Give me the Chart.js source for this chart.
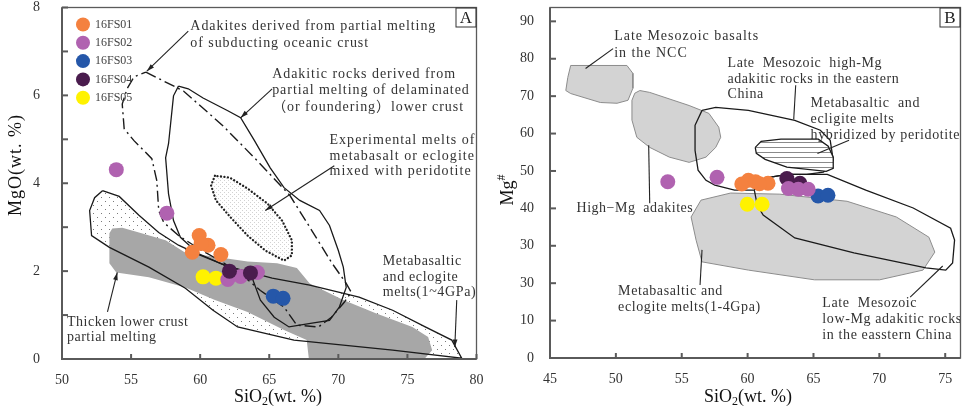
<!DOCTYPE html>
<html lang="en">
<head>
<meta charset="UTF-8">
<title>MgO and Mg# vs SiO2</title>
<script src="https://cdn.jsdelivr.net/npm/chart.js"></script>
<style>
  html, body { margin: 0; padding: 0; background: #fff; }
  #wrap { position: relative; width: 968px; height: 410px; }
  #wrap canvas { position: absolute; top: 0; }
  #chartA { left: 0; }
  #chartB { left: 484px; }
</style>
</head>
<body>
<div id="wrap">
  <canvas id="chartA" width="484" height="410"></canvas>
  <canvas id="chartB" width="484" height="410"></canvas>
</div>
<script>
// ---- samples ----
const samples = ['16FS01', '16FS02', '16FS03', '16FS04', '16FS05'];
const sampleColors = ['#f4813f', '#b062b0', '#2557a9', '#4a1c4d', '#fff200'];

// panel A: [SiO2, MgO]
const a16FS01 = [[59.93, 2.81], [60.57, 2.59], [59.43, 2.43], [61.5, 2.38], [60.07, 2.63]];
const a16FS02 = [[53.93, 4.31], [57.59, 3.32], [62.0, 1.81], [62.93, 1.88], [64.14, 1.97]];
const a16FS03 = [[65.29, 1.43], [66.0, 1.38]];
const a16FS04 = [[62.12, 2.0], [63.64, 1.96]];
const a16FS05 = [[60.21, 1.87], [61.14, 1.84]];

// panel B: [SiO2, Mg#]
const b16FS01 = [[59.56, 46.5], [60.06, 47.5], [60.6, 47.1], [61.55, 46.7], [60.9, 46.6]];
const b16FS02 = [[53.94, 47.1], [57.68, 48.3], [63.1, 45.3], [63.85, 45.1], [64.6, 45.1]];
const b16FS03 = [[65.35, 43.3], [66.1, 43.5]];
const b16FS04 = [[62.98, 48.0], [63.97, 46.7]];
const b16FS05 = [[59.98, 41.1], [61.1, 41.1]];

// ---- ticks ----
const xTicksA = [50, 55, 60, 65, 70, 75, 80];
const yTicksA = [0, 1, 2, 3, 4, 5, 6, 7, 8];
const yTickLabelsA = ['0', '', '2', '', '4', '', '6', '', '8'];
const xTicksB = [45, 50, 55, 60, 65, 70, 75];
const yTicksB = [0, 10, 20, 30, 40, 50, 60, 70, 80, 90];
const yTickLabelsB = ['0', '10', '30', '30', '40', '50', '60', '70', '80', '90'];

// ---- fields, panel A ----
const subductedCrust = [[56.07, 6.53], [58.79, 6.10], [61.64, 5.31], [64.14, 4.51], [66.5, 3.72], [68.07, 2.93],
  [69.5, 2.20], [70.57, 1.72], [70.93, 1.52], [70.43, 1.29], [69.5, 0.95], [68.57, 0.73], [67.0, 0.77],
  [66.07, 1.18], [64.36, 1.56], [63.07, 1.90], [61.64, 2.20], [59.86, 2.52], [58.43, 2.81], [57.36, 3.11],
  [57.0, 3.38], [56.86, 4.06], [56.5, 4.56], [55.21, 4.97], [54.5, 5.24], [54.36, 5.80], [54.71, 6.15], [55.21, 6.42]];
const delaminatedCrust = [[58.43, 6.21], [59.14, 6.15], [60.21, 5.94], [62.0, 5.65], [62.93, 5.49], [63.93, 4.97],
  [65.07, 4.35], [66.07, 3.90], [67.21, 3.61], [68.64, 3.38], [69.36, 3.04], [70.0, 2.47], [70.36, 2.09],
  [70.57, 1.63], [70.07, 1.18], [69.36, 0.88], [68.21, 0.82], [66.43, 0.73], [65.36, 0.95], [64.36, 1.34],
  [63.64, 1.95], [61.79, 2.13], [59.86, 2.40], [58.57, 2.77], [58.07, 3.15], [57.71, 3.76], [57.5, 4.58],
  [57.71, 4.90], [58.07, 5.99]];
const experimentalMelts = [[61.07, 4.17], [60.79, 3.95], [61.14, 3.61], [62.21, 3.22], [63.43, 2.81], [64.71, 2.47],
  [66.07, 2.24], [66.64, 2.36], [66.64, 2.70], [65.93, 3.15], [64.86, 3.54], [63.43, 3.88], [62.14, 4.13]];
const thickLowerCrust = [[53.64, 2.97], [54.36, 2.99], [55.57, 2.88], [57.5, 2.70], [58.93, 2.42], [61.07, 2.33],
  [63.43, 2.22], [65.57, 2.18], [67.0, 2.07], [67.93, 1.72], [70.36, 1.34], [72.71, 1.04], [75.36, 0.73],
  [76.5, 0.50], [76.79, 0.20], [76.29, 0.02], [67.86, 0.02], [67.71, 0.43], [66.07, 0.66], [63.43, 1.07],
  [61.07, 1.34], [58.93, 1.63], [56.29, 1.86], [53.93, 1.97], [53.43, 2.18], [53.43, 2.86]];
const metabasaltMeltsA = [[52.93, 3.83], [54.14, 3.70], [55.57, 3.27], [57.0, 2.88], [58.43, 2.59], [59.86, 2.38],
  [62.0, 2.11], [63.64, 1.97], [65.21, 1.84], [67.93, 1.68], [71.5, 1.41], [73.93, 1.11], [76.29, 0.73],
  [78.21, 0.43], [78.93, 0.02], [73.93, 0.20], [66.79, 0.43], [62.71, 0.73], [60.93, 1.11], [58.93, 1.61],
  [56.29, 2.09], [53.43, 2.54], [52.14, 2.81], [52.0, 3.38], [52.36, 3.67]];

// ---- fields, panel B ----
const nccBasalts = [[46.57, 78.2], [50.84, 78.2], [51.29, 76.1], [51.29, 72.1], [50.92, 68.9], [50.09, 68.1],
  [48.82, 68.3], [46.57, 70.7], [46.2, 71.5], [46.35, 75.0]];
const highMgAdakites = [[51.82, 71.5], [52.57, 71.0], [55.56, 67.5], [57.06, 65.4], [57.81, 61.7], [57.96, 59.0],
  [57.58, 56.3], [56.84, 53.7], [55.56, 52.3], [54.06, 53.7], [52.57, 56.3], [51.59, 59.0], [51.22, 63.6],
  [51.22, 68.9], [51.44, 70.8]];
const metabasaltMeltsB = [[55.71, 37.7], [56.46, 42.2], [58.71, 44.1], [62.45, 43.8], [67.55, 41.9], [71.29, 37.7],
  [73.76, 32.3], [74.21, 28.3], [73.31, 23.5], [70.02, 20.9], [65.07, 20.9], [60.06, 23.5], [56.54, 25.7],
  [56.09, 31.5]];
const highMgEastChina = [[56.54, 66.2], [57.58, 67.0], [60.06, 66.2], [63.58, 63.5], [65.52, 60.9], [66.27, 58.2],
  [66.5, 52.9], [66.12, 50.7], [65.75, 49.7], [64.48, 49.1], [62.98, 49.1], [61.33, 48.1], [60.51, 44.9],
  [59.01, 44.9], [57.51, 46.2], [56.84, 47.5], [56.24, 50.2], [56.01, 55.5], [56.01, 62.2]];
const lowMgEastChina = [[60.51, 44.9], [61.33, 48.1], [62.98, 49.1], [66.05, 49.1], [68.97, 44.9], [72.57, 40.1],
  [75.41, 34.7], [75.71, 31.5], [75.56, 25.4], [75.04, 23.5], [73.54, 24.1], [68.07, 28.1], [63.58, 32.1],
  [61.18, 38.2], [60.73, 40.9]];
const hybridMelts = [[60.58, 56.3], [61.03, 57.9], [62.53, 58.5], [65.37, 58.5], [66.12, 56.6], [66.5, 53.7],
  [66.5, 50.7], [65.97, 49.9], [62.98, 51.0], [61.33, 53.1], [60.66, 54.7]];

Chart.defaults.font.family = '"Liberation Serif", "Times New Roman", "Noto Sans CJK SC", serif';
Chart.defaults.color = '#333';

function makePattern(w, h, draw) {
  const c = document.createElement('canvas');
  c.width = w; c.height = h;
  const g = c.getContext('2d');
  g.fillStyle = '#fff';
  g.fillRect(0, 0, w, h);
  draw(g);
  return g.createPattern(c, 'repeat');
}
const stipple = makePattern(8, 8, g => { g.fillStyle = '#7a7a7a'; g.fillRect(1, 1, 1, 1); g.fillRect(5, 5, 1, 1); });
const fineDots = makePattern(4, 4, g => { g.fillStyle = '#d2d2d2'; g.fillRect(0, 0, 1, 1); g.fillRect(2, 2, 1, 1); });
const hatch = makePattern(5, 5, g => { g.fillStyle = '#8a8a8a'; g.fillRect(0, 2, 5, 1); });

function pts(arr) { return arr.map(([x, y]) => ({ x, y })); }
function ring(arr) { return pts(arr.concat([arr[0]])); }

function pointSet(i, data) {
  const c = sampleColors[i];
  return { label: samples[i], data: pts(data), showLine: false, pointRadius: 7.5, pointHoverRadius: 7.5,
           pointBorderWidth: 0, pointBackgroundColor: c, backgroundColor: c, borderColor: c };
}
function shapeSet(data, style) {
  return Object.assign({ data: ring(data), showLine: true, pointRadius: 0, pointHoverRadius: 0, pointHitRadius: 0,
    tension: 0, fill: false, borderColor: '#1a1a1a', borderWidth: 1.3, backgroundColor: 'transparent' }, style);
}

// text block with letter spacing fitted to a measured line width
function drawBlock(ctx, lb, px, py) {
  ctx.font = (lb.size || 14) + 'px ' + Chart.defaults.font.family;
  ctx.letterSpacing = '0px';
  const ref = lb.lines[lb.ref || 0];
  const w0 = ctx.measureText(ref).width;
  const sp = Math.max(0, (lb.w - w0) / Math.max(1, ref.length - 1));
  ctx.letterSpacing = sp.toFixed(2) + 'px';
  lb.lines.forEach((t, i) => ctx.fillText(t, px, py + i * lb.lh));
  ctx.letterSpacing = '0px';
}

function decor(p) {
  return {
    id: 'decor' + p.letter,
    afterDraw(chart) {
      const { ctx, chartArea: ca, scales: { x, y } } = chart;
      ctx.save();

      // leader lines
      ctx.strokeStyle = '#222';
      ctx.fillStyle = '#222';
      ctx.lineWidth = 1.1;
      p.leaders.forEach(l => {
        const x1 = x.getPixelForValue(l[0][0]), y1 = y.getPixelForValue(l[0][1]);
        const x2 = x.getPixelForValue(l[1][0]), y2 = y.getPixelForValue(l[1][1]);
        ctx.beginPath(); ctx.moveTo(x1, y1); ctx.lineTo(x2, y2); ctx.stroke();
        if (p.arrows) {
          const a = Math.atan2(y2 - y1, x2 - x1);
          ctx.beginPath();
          ctx.moveTo(x2, y2);
          ctx.lineTo(x2 - 8 * Math.cos(a - 0.3), y2 - 8 * Math.sin(a - 0.3));
          ctx.lineTo(x2 - 8 * Math.cos(a + 0.3), y2 - 8 * Math.sin(a + 0.3));
          ctx.closePath(); ctx.fill();
        }
      });

      // annotation text
      ctx.fillStyle = '#333';
      ctx.textBaseline = 'middle';
      ctx.textAlign = 'left';
      p.labels.forEach(lb => drawBlock(ctx, lb, x.getPixelForValue(lb.at[0]), y.getPixelForValue(lb.at[1])));

      // frame
      ctx.strokeStyle = '#5a5a5a';
      ctx.lineWidth = 1.3;
      ctx.strokeRect(ca.left, ca.top, ca.right - ca.left, ca.bottom - ca.top);
      ctx.lineWidth = 2;
      ctx.beginPath();
      ctx.moveTo(ca.left, ca.top); ctx.lineTo(ca.left, ca.bottom); ctx.lineTo(ca.right, ca.bottom);
      ctx.stroke();

      // inward tick marks
      x.ticks.forEach(t => {
        const px = x.getPixelForValue(t.value);
        ctx.beginPath(); ctx.moveTo(px, ca.bottom); ctx.lineTo(px, ca.bottom - 5); ctx.stroke();
      });
      y.ticks.forEach(t => {
        const py = y.getPixelForValue(t.value);
        ctx.beginPath(); ctx.moveTo(ca.left, py); ctx.lineTo(ca.left + 6, py); ctx.stroke();
      });

      // panel letter
      ctx.lineWidth = 1;
      ctx.strokeStyle = '#333';
      ctx.strokeRect(ca.right - 20.5, ca.top + 0.5, 20, 19);
      ctx.fillStyle = '#222';
      ctx.font = '17px ' + Chart.defaults.font.family;
      ctx.textAlign = 'center';
      ctx.fillText(p.letter, ca.right - 10.5, ca.top + 11);

      // x title  SiO2(wt. %)
      const big = '18px ' + Chart.defaults.font.family, small = '12px ' + Chart.defaults.font.family;
      ctx.fillStyle = '#111';
      ctx.textAlign = 'left';
      ctx.font = big;
      const w1 = ctx.measureText('SiO').width, w3 = ctx.measureText('(wt. %)').width;
      ctx.font = small;
      const w2 = ctx.measureText('2').width;
      let tx = p.xTitle[0] - (w1 + w2 + w3) / 2;
      const ty = p.xTitle[1];
      ctx.font = big; ctx.fillText('SiO', tx, ty); tx += w1;
      ctx.font = small; ctx.fillText('2', tx, ty + 5); tx += w2;
      ctx.font = big; ctx.fillText('(wt. %)', tx, ty);

      // y title
      ctx.save();
      ctx.translate(p.yTitle[0], p.yTitle[1]);
      ctx.rotate(-Math.PI / 2);
      ctx.font = big;
      if (p.yTitleSup) {
        const m = ctx.measureText(p.yTitleText).width;
        ctx.font = small;
        const s = ctx.measureText(p.yTitleSup).width;
        const sx = -(m + s) / 2;
        ctx.font = big; ctx.fillText(p.yTitleText, sx, 0);
        ctx.font = small; ctx.fillText(p.yTitleSup, sx + m, -6);
      } else {
        ctx.letterSpacing = '1px';
        ctx.textAlign = 'center';
        ctx.fillText(p.yTitleText, 0, 0);
        ctx.letterSpacing = '0px';
      }
      ctx.restore();

      // legend
      if (p.legend) {
        ctx.font = '12px ' + Chart.defaults.font.family;
        ctx.textAlign = 'left';
        samples.forEach((s, i) => {
          const cy = ca.top + 17 + i * 18.3;
          ctx.fillStyle = sampleColors[i];
          ctx.beginPath(); ctx.arc(ca.left + 21, cy, 7, 0, Math.PI * 2); ctx.fill();
          ctx.fillStyle = '#444';
          ctx.fillText(s, ca.left + 33, cy);
        });
      }
      ctx.restore();
    }
  };
}

function noPad(s) {
  s.paddingTop = 0; s.paddingBottom = 0; s.paddingLeft = 0; s.paddingRight = 0;
}

function makeChart(id, cfg) {
  return new Chart(document.getElementById(id), {
    type: 'scatter',
    data: { datasets: cfg.datasets },
    options: {
      responsive: false,
      animation: false,
      events: [],
      layout: { padding: { top: 7, right: cfg.padRight, left: 0, bottom: 0 } },
      plugins: { legend: { display: false }, tooltip: { enabled: false } },
      scales: {
        x: {
          type: 'linear', min: cfg.xMin, max: cfg.xMax,
          grid: { display: false }, border: { display: false },
          ticks: { font: { size: 14 }, color: '#333', padding: 5, autoSkip: false, maxRotation: 0 },
          afterBuildTicks: s => { s.ticks = cfg.xTicks.map(v => ({ value: v })); },
          afterFit: s => { s.height = cfg.xAxisH; noPad(s); }
        },
        y: {
          type: 'linear', min: cfg.yMin, max: cfg.yMax,
          grid: { display: false }, border: { display: false },
          ticks: { font: { size: 14 }, color: '#333', padding: cfg.yPad, autoSkip: false,
                   callback: (v, i) => cfg.yLabels[i] },
          afterBuildTicks: s => { s.ticks = cfg.yTicks.map(v => ({ value: v })); },
          afterFit: s => { s.width = cfg.yAxisW; noPad(s); }
        }
      }
    },
    plugins: [decor(cfg.decor)]
  });
}

// ---- panel A ----
makeChart('chartA', {
  xMin: 50, xMax: 80, yMin: 0, yMax: 8,
  xTicks: xTicksA, yTicks: yTicksA, yLabels: yTickLabelsA,
  yAxisW: 62, xAxisH: 51, padRight: 3, yPad: 14,
  datasets: [
    pointSet(3, a16FS04), pointSet(1, a16FS02), pointSet(2, a16FS03), pointSet(0, a16FS01), pointSet(4, a16FS05),
    shapeSet(subductedCrust, { borderDash: [11, 4, 2, 4], borderWidth: 1.4 }),
    shapeSet(delaminatedCrust, {}),
    shapeSet(metabasaltMeltsA, {}),
    shapeSet(experimentalMelts, { fill: 'shape', backgroundColor: fineDots, borderDash: [0.1, 3.4],
                                  borderWidth: 2.3, borderCapStyle: 'round', borderColor: '#222' }),
    shapeSet(thickLowerCrust, { fill: 'shape', backgroundColor: '#a7a7a7', borderWidth: 0, borderColor: '#a7a7a7' }),
    shapeSet(metabasaltMeltsA, { fill: 'shape', backgroundColor: stipple, borderWidth: 0 })
  ],
  decor: {
    letter: 'A', arrows: true, legend: true,
    xTitle: [278, 397], yTitle: [16, 165], yTitleText: 'MgO(wt. %)',
    labels: [
      { at: [59.29, 7.57], lh: 17, w: 245, lines: ['Adakites derived from partial melting', 'of subducting oceanic crust'] },
      { at: [65.21, 6.49], lh: 16.5, w: 183, lines: ['Adakitic rocks derived from', 'partial melting of delaminated', '（or foundering）lower crust'] },
      { at: [69.36, 4.97], lh: 15.5, w: 145, lines: ['Experimental melts of', 'metabasalt or eclogite', 'mixed with peridotite'] },
      { at: [73.21, 2.22], lh: 15.5, w: 93, ref: 2, lines: ['Metabasaltic', 'and eclogite', 'melts(1~4GPa)'] },
      { at: [50.36, 0.84], lh: 15, w: 121, lines: ['Thicken lower crust', 'partial melting'] }
    ],
    leaders: [
      [[59.14, 7.46], [56.14, 6.55]],
      [[65.21, 6.15], [62.93, 5.49]],
      [[69.71, 4.40], [64.71, 3.38]],
      [[78.57, 1.34], [78.43, 0.27]],
      [[53.29, 1.07], [54.0, 1.97]]
    ]
  }
});

// ---- panel B ----
makeChart('chartB', {
  xMin: 45, xMax: 76.16, yMin: 0, yMax: 93.7,
  xTicks: xTicksB, yTicks: yTicksB, yLabels: yTickLabelsB,
  yAxisW: 66, xAxisH: 52, padRight: 2, yPad: 8,
  datasets: [
    pointSet(1, b16FS02), pointSet(3, b16FS04), pointSet(2, b16FS03), pointSet(0, b16FS01), pointSet(4, b16FS05),
    shapeSet(hybridMelts, { fill: 'shape', backgroundColor: hatch }),
    shapeSet(highMgEastChina, {}),
    shapeSet(lowMgEastChina, {}),
    shapeSet(nccBasalts, { fill: 'shape', backgroundColor: '#d3d3d3', borderColor: '#8c8c8c', borderWidth: 1 }),
    shapeSet(highMgAdakites, { fill: 'shape', backgroundColor: '#d3d3d3', borderColor: '#8c8c8c', borderWidth: 1 }),
    shapeSet(metabasaltMeltsB, { fill: 'shape', backgroundColor: '#d3d3d3', borderColor: '#8c8c8c', borderWidth: 1 })
  ],
  decor: {
    letter: 'B', arrows: false, legend: false,
    xTitle: [264, 397], yTitle: [24, 190], yTitleText: 'Mg', yTitleSup: '#',
    labels: [
      { at: [49.87, 85.9], lh: 17, w: 144, lines: ['Late Mesozoic basalts', 'in the NCC'] },
      { at: [58.48, 78.7], lh: 15.5, w: 154, lines: ['Late  Mesozoic  high-Mg', 'adakitic rocks in the eastern', 'China'] },
      { at: [64.78, 68.1], lh: 16, w: 149, ref: 2, lines: ['Metabasaltic  and', 'ecligite melts', 'hybridized by peridotite'] },
      { at: [47.02, 40.1], lh: 16, w: 116, lines: ['High\u2212Mg  adakites'] },
      { at: [50.17, 17.7], lh: 16, w: 142, ref: 1, lines: ['Metabasaltic and', 'eclogite melts(1-4Gpa)'] },
      { at: [65.67, 14.7], lh: 16, w: 139, ref: 1, lines: ['Late  Mesozoic', 'low-Mg adakitic rocks', 'in the easstern China'] }
    ],
    leaders: [
      [[49.79, 82.7], [47.7, 77.4]],
      [[63.65, 72.9], [63.5, 63.8]],
      [[67.7, 58.2], [65.3, 54.7]],
      [[52.49, 56.9], [52.57, 41.4]],
      [[56.54, 28.9], [56.39, 19.5]],
      [[72.34, 16.3], [74.81, 24.6]]
    ]
  }
});
</script>
</body>
</html>
